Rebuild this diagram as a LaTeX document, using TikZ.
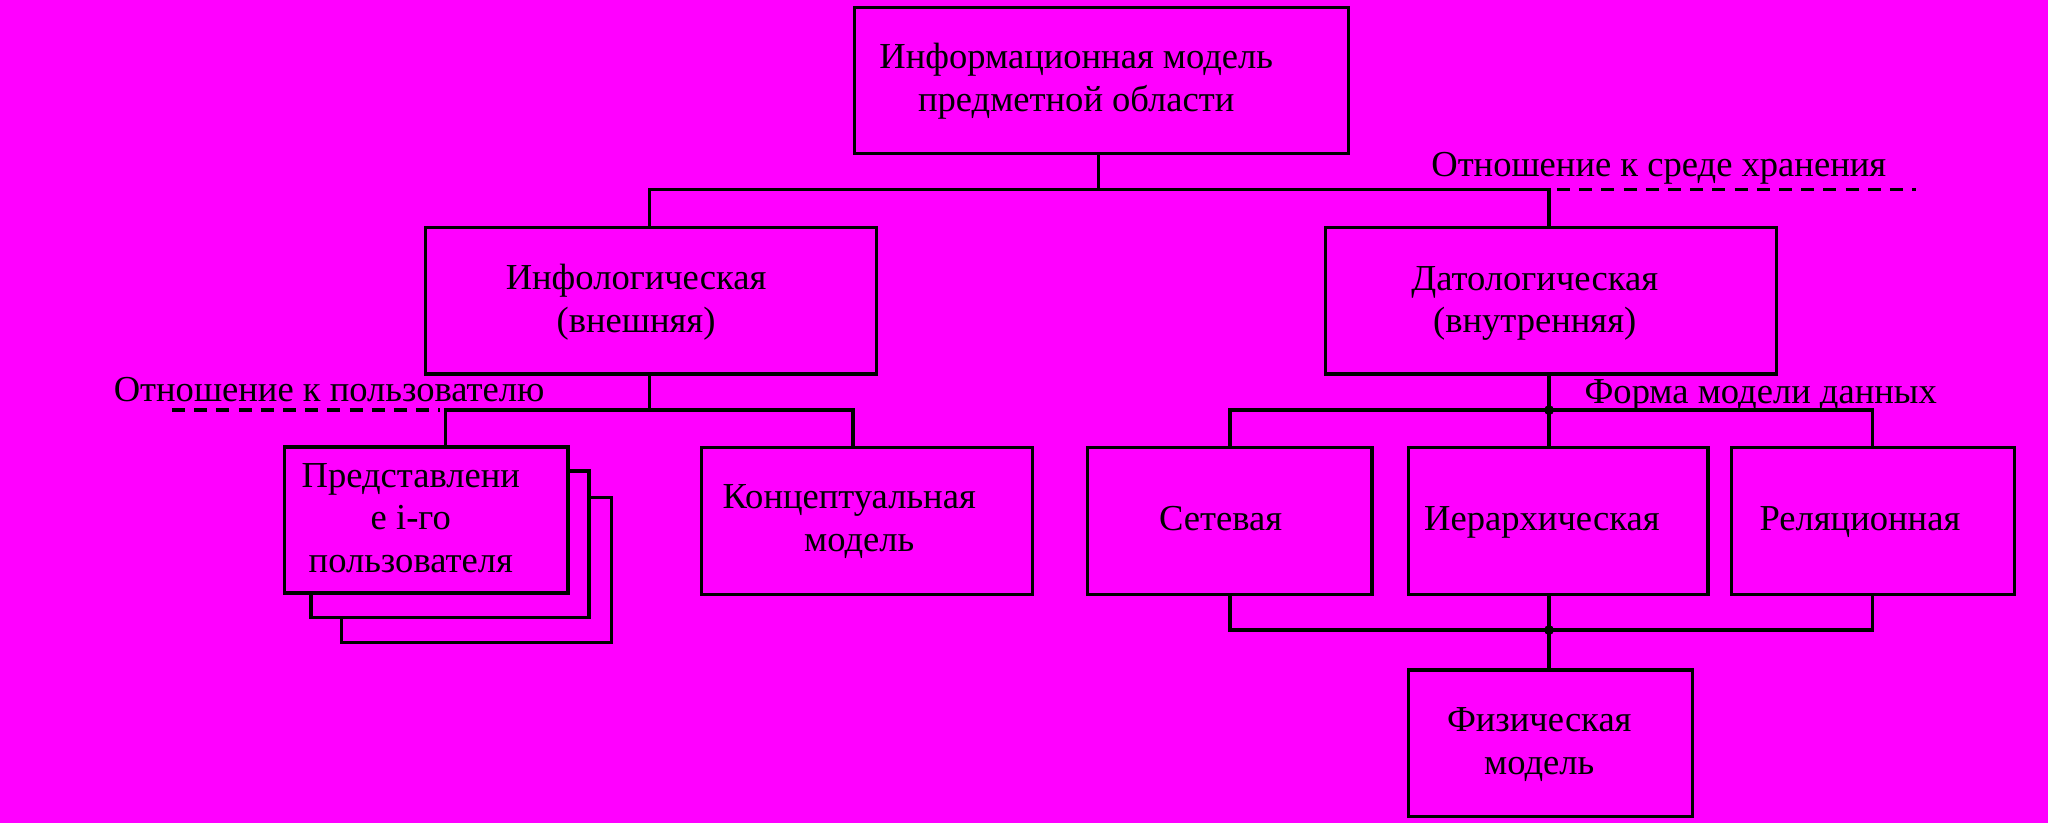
\documentclass[tikz,border=0pt]{standalone}
\usepackage{fontspec}
\setmainfont{Liberation Serif}
\definecolor{bg}{RGB}{255,0,255}
\tikzset{
  box/.style={draw, line width=1.25pt, fill=bg, inner sep=0pt, rectangle},
  txt/.style={inner sep=0pt, align=center, anchor=base, font=\fontsize{14}{16.4}\selectfont},
  conn/.style={line width=1.25pt},
  dsh/.style={line width=1.25pt, dash pattern=on 5pt off 3.5pt},
  junct/.style={circle, fill=black, inner sep=0pt, minimum size=3.8pt},
}
\begin{document}
\begin{tikzpicture}[x=0.5pt,y=-0.5pt]
\fill[bg] (0,0) rectangle (1568,630);
\useasboundingbox (0,0) rectangle (1568,630);

% boxes
\node[box, minimum width=189.1pt, minimum height=55.9pt] (top) at (843.5,61.5) {};
\node[box, minimum width=172.8pt, minimum height=56.2pt] (info) at (498.5,230.2) {};
\node[box, minimum width=172.5pt, minimum height=56.2pt] (dato) at (1187.5,230.2) {};
\node[box, minimum width=103.4pt, minimum height=55.65pt] (pred3) at (364.9,436.35) {};
\node[box, minimum width=106.4pt, minimum height=55.95pt] (pred2) at (344.6,416.55) {};
\node[box, minimum width=108.55pt, minimum height=55.9pt] (pred1) at (326.25,398.1) {};
\node[box, minimum width=126.75pt, minimum height=56.25pt] (konc) at (663.95,398.75) {};
\node[box, minimum width=108.95pt, minimum height=56.25pt] (set) at (941.55,398.75) {};
\node[box, minimum width=114.6pt, minimum height=56.25pt] (ier) at (1193,398.75) {};
\node[box, minimum width=108.5pt, minimum height=56.25pt] (rel) at (1434.1,398.75) {};
\node[box, minimum width=108.75pt, minimum height=56.15pt] (fiz) at (1187.25,569.15) {};

% texts (multi-line nodes: base = last line)
\node[txt] (ttop) at (824,85.5) {Информационная модель\\предметной области};
\node[txt] (tinfo) at (487,254.7) {Инфологическая\\(внешняя)};
\node[txt] (tdato) at (1175,254.9) {Датологическая\\(внутренняя)};
\node[txt] (tpred) at (314.5,438.5) {Представлени\\е i-го\\пользователя};
\node[txt] (tkonc) at (650.2,422.4) {Концептуальная\\\hspace*{7.6pt}модель};
\node[txt] (tset) at (934.5,406.3) {Сетевая};
\node[txt] (tier) at (1180.5,406.3) {Иерархическая};
\node[txt] (trel) at (1424,406.3) {Реляционная};
\node[txt] (tfiz) at (1178.5,592.9) {Физическая\\модель};
\node[txt] (l1) at (1270,135.5) {Отношение к среде хранения};
\node[txt] (l2) at (252,307.5) {Отношение к пользователю};
\node[txt] (l3) at (1348,308.6) {Форма модели данных};

% junction coordinates
\coordinate (j1) at (841,145);
\coordinate (j2) at (497,314);
\coordinate (j3) at (1186,314);
\coordinate (j4) at (1186,482.4);
\coordinate (p1t) at (341,342.2);
\coordinate (k1t) at (653,342.5);
\coordinate (st) at (941.8,342.5);
\coordinate (it) at (1186,342.5);
\coordinate (rt) at (1433.8,342.5);
\coordinate (sb) at (941.8,455);
\coordinate (ib) at (1186,455);
\coordinate (rb) at (1433.8,455);
\coordinate (d1s) at (1192,145);
\coordinate (d1e) at (1467,145);
\coordinate (d2s) at (131.6,314);
\coordinate (d2e) at (337,314);

% connectors
\draw[conn] (top.south -| j1) -- (j1);
\draw[conn] (info.north -| j2) |- (j1) -| (dato.north -| j3);
\draw[dsh] (d1s) -- (d1e);
\draw[conn] (info.south -| j2) -- (j2);
\draw[conn] (p1t) |- (j2) -| (k1t);
\draw[dsh] (d2s) -- (d2e);
\draw[conn] (dato.south -| j3) -- (j3);
\draw[conn] (st) |- (j3) -| (rt);
\draw[conn] (j3) -- (it);
\draw[conn] (sb) |- (j4) -| (rb);
\draw[conn] (ib) -- (j4) -- (j4 |- fiz.north);
\node[junct] (dot3) at (j3) {};
\node[junct] (dot4) at (j4) {};
\draw[line width=1.6pt] (dot3.center) -- ++(14,0);
\draw[line width=1.6pt] (dot4.center) -- ++(12,0);
\end{tikzpicture}
\end{document}
